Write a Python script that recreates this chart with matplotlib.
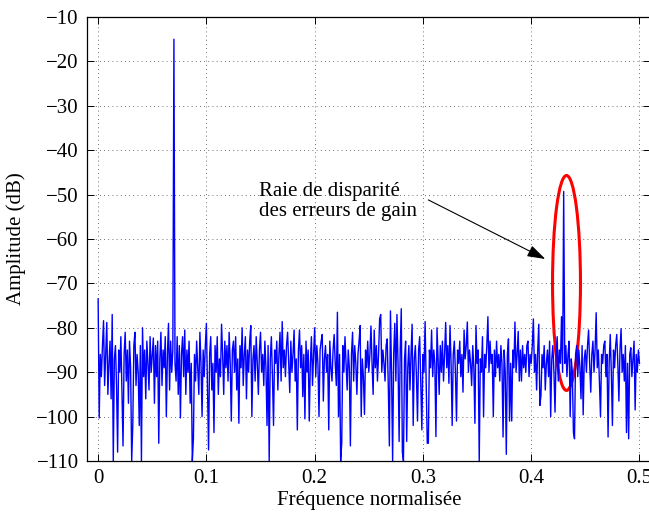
import numpy as np
import matplotlib
matplotlib.use("Agg")
import matplotlib.pyplot as plt
from matplotlib.patches import Ellipse

plt.rcParams['font.family'] = ['Liberation Serif', 'DejaVu Serif']
plt.rcParams['mathtext.fontset'] = 'stix'

# ---------------- data ----------------
freq_start = 0.0
freq_stop = 0.5
amplitude_db = [
    -73.5, -100.3, -86, -91, -84, -78.4, -93, -86, -78.8, -95,
    -88, -83, -96, -77, -110, -87, -84, -93, -108, -85,
    -90, -82, -94, -106.6, -86, -81, -92, -85, -97, -83,
    -89, -110, -102, -84, -81, -93, -86, -90, -102, -84,
    -110, -80, -91, -85, -96, -83, -88, -94, -82, -90,
    -86, -82.3, -97, -84, -91, -83, -106, -87, -81, -93,
    -85, -89, -82, -100, -86, -79, -94, -83, -90, -85,
    -15, -88, -92, -82, -95, -84, -100.3, -86, -82, -91,
    -80.5, -95, -85, -90, -83, -97, -88, -110, -105, -86,
    -92, -83, -89, -95, -81, -88, -100, -85, -91, -84,
    -79, -93, -107.5, -86, -82, -94, -88, -103.6, -84, -90,
    -82, -95, -87, -91, -79.2, -86, -95, -83, -89, -84,
    -92, -81, -88, -101, -85, -83, -90, -82, -94, -87,
    -101.5, -84, -89, -80, -93, -86, -82, -96, -85, -90,
    -83, -79.5, -100, -87, -84, -92, -82, -88, -95, -85,
    -81, -90, -86, -93, -83, -89, -102, -84, -110, -87,
    -82, -91, -102, -85, -88, -83, -94, -86, -81, -92,
    -78.6, -89, -85, -91, -84, -81, -88, -94.6, -83, -90,
    -86, -80.5, -92, -87, -103, -85, -80.5, -89, -84, -95.5,
    -86, -100.5, -83, -90, -85, -101, -88, -82, -93, -86,
    -80, -91, -84, -88, -100, -85, -83, -81.5, -96.5, -87,
    -84, -90, -86, -103, -83, -89, -92, -85, -81.5, -88,
    -93, -76.5, -100, -86, -110, -106, -84, -90, -82, -88,
    -94, -85, -89, -106.6, -86, -81, -92, -84, -88, -95,
    -86, -83, -79.5, -100, -87, -91, -99.5, -85, -89, -83,
    -90, -86, -79.6, -88, -95, -80.5, -89, -84, -92, -86,
    -78, -77, -90, -85, -88, -92, -84, -82.5, -93, -106.6,
    -76.2, -90, -110, -86, -79, -92, -77, -88, -105.6, -85,
    -75.7, -108, -110, -87, -83, -105.6, -89, -84, -94, -86,
    -79.2, -102, -87, -84, -91, -101, -85, -82, -93, -103,
    -86, -90, -78.6, -92, -106, -106, -85, -89, -80.5, -91,
    -85, -88, -104.5, -80, -87, -95, -84, -90, -83, -92,
    -86, -78.8, -89, -84, -92.5, -79.5, -88, -102, -86, -83,
    -90, -101, -85, -88, -83, -91, -86, -94.5, -80.5, -87,
    -84, -78.7, -90, -85, -88, -93, -84, -89, -101.5, -79.5,
    -88, -85, -110, -87, -90, -82, -100, -86, -89, -84,
    -77.5, -90, -83, -88, -86, -100, -85, -91, -83, -89,
    -86, -92, -84, -88, -104.6, -85, -90, -108.5, -86, -82.5,
    -101, -88, -101, -85, -89, -78.7, -90, -86, -80.8, -92,
    -85, -92, -84, -89, -86, -90, -84, -83, -91, -86,
    -88, -84, -78, -90, -86, -94, -85, -79.2, -97.5, -95.3,
    -86, -89, -84, -94, -88, -85, -91, -83, -100, -87,
    -84, -90, -99, -86, -82, -92, -85, -88, -77.5, -90,
    -49.3, -88, -84, -91, -86, -83, -100, -87, -90, -103.6,
    -105, -86, -84, -91, -85, -89, -96, -84, -99.6, -87,
    -85, -90, -84, -80.5, -88, -94.5, -86, -83, -90, -85,
    -76.6, -89, -85, -92, -100, -86, -88, -84, -83, -91,
    -86, -104.6, -88, -81.5, -90, -102, -85, -89, -84, -81.5,
    -88, -96.5, -85, -80.2, -90, -86, -92, -84, -103.6, -88,
    -105, -86, -84.5, -91, -87, -83, -98.5, -86, -90, -85,
    -88,
]
freq = np.linspace(freq_start, freq_stop, len(amplitude_db))

x_ticks = [0, 0.1, 0.2, 0.3, 0.4, 0.5]
x_tick_labels = ['0', '0.1', '0.2', '0.3', '0.4', '0.5']
y_ticks = [-110, -100, -90, -80, -70, -60, -50, -40, -30, -20, -10]

annotation_text = "Raie de disparit\u00e9\ndes erreurs de gain"
x_label = "Fr\u00e9quence normalis\u00e9e"
y_label = "Amplitude (dB)"

# ---------------- figure ----------------
W, H = 649, 514
fig = plt.figure(figsize=(W / 100, H / 100), dpi=100)
ax_left, ax_right, ax_bottom, ax_top = 87.3, 650.3, 461.0, 17.0
ax = fig.add_axes([ax_left / W, (H - ax_bottom) / H,
                   (ax_right - ax_left) / W, (ax_bottom - ax_top) / H])

ax.plot(freq, amplitude_db, color=(0, 0, 1), lw=1.0)

ax.set_xlim(-0.01, 0.51)
ax.set_ylim(-110, -10)
ax.set_xticks(x_ticks)
ax.set_xticklabels(x_tick_labels)
ax.set_yticks(y_ticks)

ax.grid(True, color='0.25', linestyle=(0, (1, 4)), linewidth=0.6)
ax.tick_params(direction='in', top=True, right=True, length=5, width=0.7,
               labelsize=15, pad=6)
for s in ax.spines.values():
    s.set_linewidth(0.9)

ax.set_xlabel(x_label, fontsize=15, labelpad=2)
ax.set_ylabel(y_label, fontsize=15)
ax.yaxis.set_label_coords(-0.108, 0.5)

# ellipse highlighting the gain-mismatch spur
ell = Ellipse((0.4326, -69.9), width=0.0258, height=48.4,
              fill=False, edgecolor=(1, 0, 0), lw=2.2)
ax.add_patch(ell)

ax.annotate("", xy=(0.413, -64.5), xytext=(0.305, -51.2),
            arrowprops=dict(arrowstyle='-|>,head_length=0.55,head_width=0.18',
                            color='black', lw=0.8, mutation_scale=20,
                            shrinkA=0, shrinkB=0))
ax.text(0.149, -51.6, annotation_text, fontsize=15, ha='left', va='center',
        linespacing=1.1)

fig.savefig("out.png", dpi=100)
